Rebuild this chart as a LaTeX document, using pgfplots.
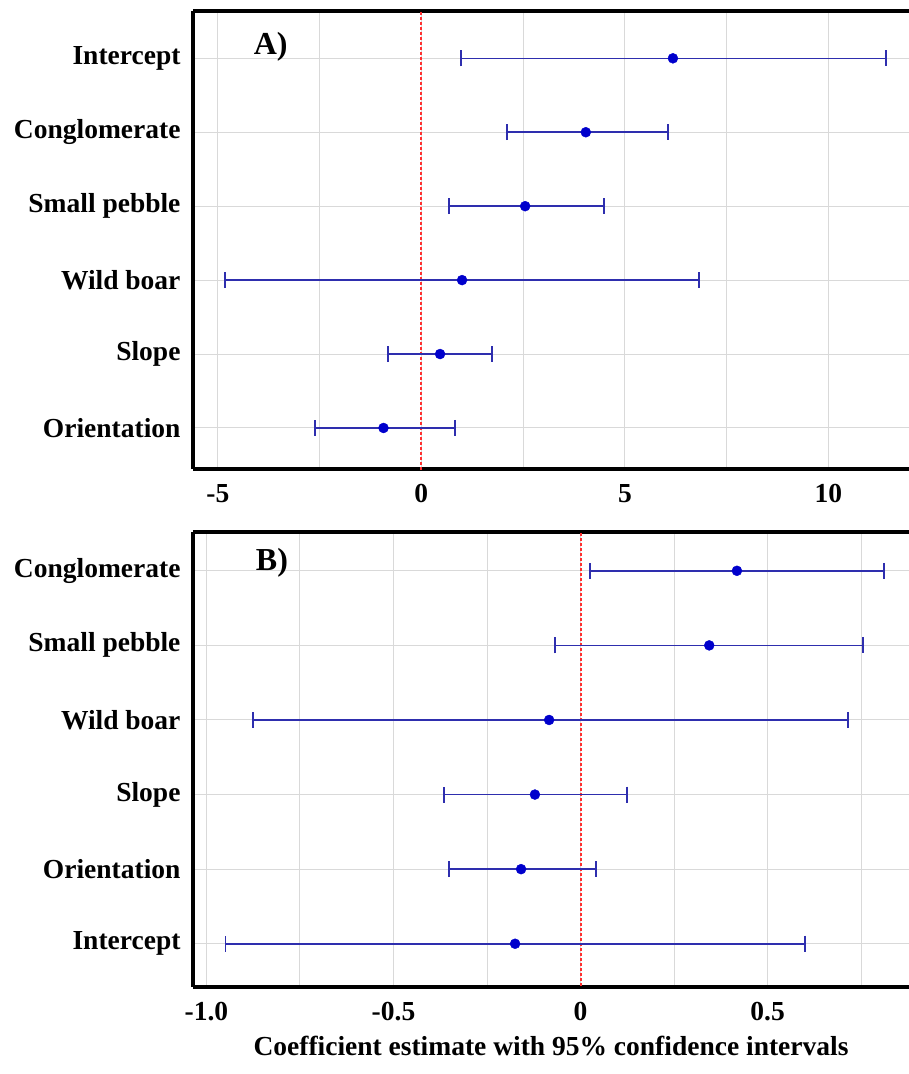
\documentclass[border=0pt]{standalone}
\usepackage{fontspec}
\setmainfont{Liberation Serif}
\usepackage{pgfplots}
\pgfplotsset{compat=1.18}
\definecolor{gridgray}{HTML}{D9D9D9}
\definecolor{barblue}{HTML}{2E2EAE}
\definecolor{ptblue}{HTML}{0000CC}
\definecolor{refred}{HTML}{FF3030}
\pgfplotsset{forest/.style={
  scale only axis, width=716pt,
  axis x line*=box, axis y line*=left,
  axis line style={line width=3.2pt, black},
  x axis line style={line width=3.2pt, black},
  y axis line style={line width=3.2pt, black},
  grid=both,
  major grid style={gridgray, line width=1pt},
  minor grid style={gridgray, line width=1pt},
  major tick length=0pt, minor tick length=0pt,
  ytick={1,2,3,4,5,6},
  tick label style={font=\bfseries\fontsize{27.5}{30}\selectfont},
  yticklabel style={xshift=-9pt},
  xticklabel style={yshift=-12pt},
}}
\pgfplotsset{ciplot/.style={only marks, mark=*, mark size=5pt, color=ptblue,
  mark options={fill=ptblue, draw=ptblue},
  error bars/.cd, x dir=both, x explicit, error mark=|,
  error bar style={barblue, line width=1.6pt},
  error mark options={barblue, line width=1.6pt, mark size=8pt}}}
\begin{document}
\begin{tikzpicture}[x=1pt,y=1pt]
\useasboundingbox (0,0) rectangle (909,-1074);
% Panel A
\begin{axis}[forest, at={(193pt,-11pt)}, anchor=north west, height=458pt,
  xmin=-5.61, xmax=11.98, ymin=0.445, ymax=6.64,
  xtick={-5,0,5,10}, xticklabels={-5,0,5,10},
  minor xtick={-2.5,2.5,7.5},
  yticklabels={Orientation,Slope,Wild boar,Small pebble,Conglomerate,Intercept}]
\addplot[refred, dash pattern=on 3pt off 2pt, line width=2pt] coordinates {(0,0.3) (0,6.8)};
\addplot[ciplot] table[x=est, y=pos, x error plus=ep, x error minus=em] {
pos est em ep
6 6.18 5.21 5.24
5 4.04 1.94 2.02
4 2.55 1.87 1.94
3 1.00 5.83 5.82
2 0.46 1.28 1.27
1 -0.93 1.69 1.76
};
\node[anchor=west, font=\bfseries\fontsize{32}{34}\selectfont] at (rel axis cs:0.08,0.922) {A)};
\end{axis}
% Panel B
\begin{axis}[forest, at={(193pt,-532pt)}, anchor=north west, height=455pt,
  xmin=-1.036, xmax=0.878, ymin=0.42, ymax=6.52,
  xtick={-1,-0.5,0,0.5}, xticklabels={-1.0,-0.5,0,0.5},
  minor xtick={-0.75,-0.25,0.25,0.75},
  yticklabels={Intercept,Orientation,Slope,Wild boar,Small pebble,Conglomerate},
  xlabel={Coefficient estimate with 95\% confidence intervals},
  xlabel style={font=\bfseries\fontsize{27.5}{30}\selectfont, yshift=-8pt}]
\addplot[refred, dash pattern=on 3pt off 2pt, line width=2pt] coordinates {(0,0.3) (0,6.8)};
\addplot[ciplot] table[x=est, y=pos, x error plus=ep, x error minus=em] {
pos est em ep
6 0.418 0.393 0.393
5 0.344 0.412 0.411
4 -0.084 0.792 0.799
3 -0.122 0.243 0.246
2 -0.159 0.193 0.200
1 -0.175 0.774 0.775
};
\node[anchor=west, font=\bfseries\fontsize{32}{34}\selectfont] at (rel axis cs:0.083,0.932) {B)};
\end{axis}
\end{tikzpicture}
\end{document}
